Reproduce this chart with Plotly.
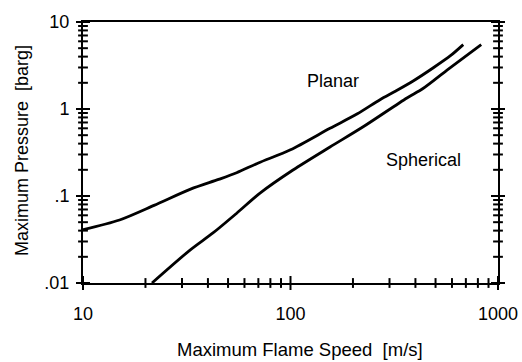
import plotly.graph_objects as go

# Maximum flame speed [m/s] vs maximum overpressure [barg]
planar_speed = [10, 15, 22, 33, 45, 55, 70, 100, 155, 210, 270, 320, 390, 490, 590, 680]
planar_pressure = [0.041, 0.053, 0.078, 0.12, 0.155, 0.185, 0.24, 0.34, 0.6, 0.88,
                   1.28, 1.6, 2.1, 3.0, 4.1, 5.5]

spherical_speed = [21.5, 32.8, 42.3, 55.2, 71.3, 102.8, 155, 223, 364, 435, 568, 830]
spherical_pressure = [0.01, 0.0239, 0.0376, 0.0638, 0.108, 0.199, 0.366, 0.621,
                      1.34, 1.72, 2.8, 5.5]

x_tickvals = [10, 100, 1000]
x_ticktext = ["10", "100", "1000"]
y_tickvals = [0.01, 0.1, 1, 10]
y_ticktext = [".01", ".1", "1", "10"]

x_minor = [m * d for d in (10, 100) for m in range(2, 10)]
y_minor = [m * d for d in (0.01, 0.1, 1) for m in range(2, 10)]

x_min, x_max = 10, 1000
y_min, y_max = 0.01, 10

font_family = "Liberation Sans, Arial, sans-serif"

fig = go.Figure()
fig.add_trace(go.Scatter(x=planar_speed, y=planar_pressure, mode="lines",
                         line=dict(color="black", width=2.8, shape="spline", smoothing=0.8),
                         showlegend=False))
fig.add_trace(go.Scatter(x=spherical_speed, y=spherical_pressure, mode="lines",
                         line=dict(color="black", width=2.8, shape="spline", smoothing=0.8),
                         showlegend=False))

# tick marks along the bottom, left and right edges of the frame
tick_sets = [
    (x_tickvals, [y_min] * len(x_tickvals), "line-ns", 10),
    (x_minor, [y_min] * len(x_minor), "line-ns", 7),
    ([x_min] * len(y_tickvals), y_tickvals, "line-ew", 10),
    ([x_min] * len(y_minor), y_minor, "line-ew", 7),
    ([x_max] * len(y_tickvals), y_tickvals, "line-ew", 10),
    ([x_max] * len(y_minor), y_minor, "line-ew", 7),
]
for tx_vals, ty_vals, symbol, size in tick_sets:
    fig.add_trace(go.Scatter(x=tx_vals, y=ty_vals, mode="markers", cliponaxis=False,
                             marker=dict(symbol=symbol, size=size, color="black",
                                         line=dict(color="black", width=2)),
                             hoverinfo="skip", showlegend=False))

fig.add_annotation(x=2.205, y=0.322, xref="x", yref="y", text="Planar",
                   xanchor="center", yanchor="middle", showarrow=False,
                   font=dict(size=18, color="black", family=font_family))
fig.add_annotation(x=2.639, y=-0.586, xref="x", yref="y", text="Spherical",
                   xanchor="center", yanchor="middle", showarrow=False,
                   font=dict(size=18, color="black", family=font_family))

W, H = 522, 362
L, R, T, B = 83, 24, 22, 79


def px_to_paper(px, py):
    return (px - L) / (W - L - R), 1 - (py - T) / (H - T - B)


tx, ty = px_to_paper(300, 349)
fig.add_annotation(x=tx, y=ty, xref="paper", yref="paper",
                   text="Maximum Flame Speed  [m/s]", showarrow=False,
                   xanchor="center", yanchor="middle",
                   font=dict(size=18.5, color="black", family=font_family))
tx, ty = px_to_paper(22, 151)
fig.add_annotation(x=tx, y=ty, xref="paper", yref="paper",
                   text="Maximum Pressure  [barg]", textangle=-90, showarrow=False,
                   xanchor="center", yanchor="middle",
                   font=dict(size=18, color="black", family=font_family))

fig.update_layout(
    width=W, height=H,
    margin=dict(l=L, r=R, t=T, b=B, autoexpand=False),
    paper_bgcolor="white", plot_bgcolor="white",
    font=dict(family=font_family, color="black", size=18),
)
fig.update_xaxes(type="log", range=[1, 3], tickmode="array", tickvals=x_tickvals,
                 ticktext=x_ticktext, showgrid=False, zeroline=False, showline=True,
                 linecolor="black", linewidth=2, mirror=True, ticks="",
                 ticklabelstandoff=13, automargin=False)
fig.update_yaxes(type="log", range=[-2, 1], tickmode="array", tickvals=y_tickvals,
                 ticktext=y_ticktext, showgrid=False, zeroline=False, showline=True,
                 linecolor="black", linewidth=2, mirror=True, ticks="",
                 ticklabelstandoff=8, automargin=False)

fig.write_html("out.html")
